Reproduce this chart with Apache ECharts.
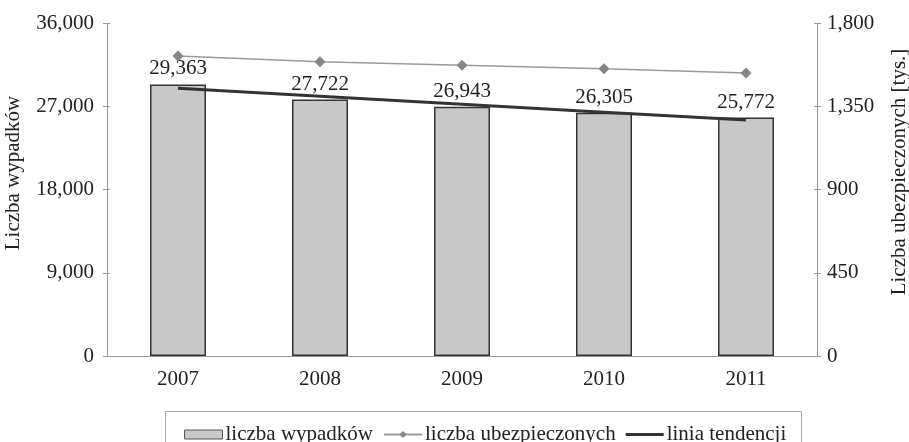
<!DOCTYPE html>
<html>
<head>
<meta charset="utf-8">
<script src="https://cdn.jsdelivr.net/npm/echarts@6/dist/echarts.min.js"></script>
<style>html,body{margin:0;padding:0;background:#fff}#c{width:909px;height:442px}</style>
</head>
<body>
<div id="c"></div>
<script>
var years = ['2007', '2008', '2009', '2010', '2011'];
var accidents = [29363, 27722, 26943, 26305, 25772];
var insured = [1621, 1590, 1571, 1553, 1530];
var trend = [28941, 28081, 27221, 26361, 25501];
var leftTicks = [0, 9000, 18000, 27000, 36000];
var rightTicks = [0, 450, 900, 1350, 1800];

var FONT = 'Liberation Serif';
var FS = 21;
var TXT = '#222';
function fmt(v){ return v.toLocaleString('en-US'); }

function yAx(ticks, pos, main) {
  return {
    type: 'value', position: pos,
    min: ticks[0], max: ticks[ticks.length - 1], interval: ticks[1] - ticks[0],
    axisLine: {show: main, lineStyle: {color: '#999'}},
    axisTick: {show: true, inside: !main, length: main ? 4 : 3, lineStyle: {color: '#999'}},
    splitLine: {show: false},
    axisLabel: main ? {fontFamily: FONT, fontSize: FS, color: TXT, margin: pos === 'left' ? 13 : 10, formatter: fmt} : {show: false}
  };
}

var chart = echarts.init(document.getElementById('c'), null, {renderer: 'canvas'});
chart.setOption({
  animation: false,
  textStyle: {fontFamily: FONT, color: TXT},
  grid: {left: 107, right: 92, top: 23, bottom: 86, containLabel: false},
  xAxis: {
    type: 'category', data: years,
    axisLine: {lineStyle: {color: '#999', width: 1}},
    axisTick: {show: false},
    axisLabel: {fontFamily: FONT, fontSize: FS, color: TXT, margin: 13}
  },
  yAxis: [yAx(leftTicks, 'left', true), yAx(rightTicks, 'right', true), yAx(leftTicks, 'left', false), yAx(rightTicks, 'right', false)],
  legend: {
    left: 179, top: 419, itemGap: 10, itemWidth: 38, itemHeight: 9,
    textStyle: {fontFamily: FONT, fontSize: FS, color: TXT, padding: [0, 0, 0, -2]},
    data: [
      {name: 'liczba wypadków', icon: 'rect', itemStyle: {color: '#c8c8c8', borderColor: '#555', borderWidth: 1}},
      {name: 'liczba ubezpieczonych'},
      {name: 'linia tendencji', icon: 'path://M0,0L0,0M0,3H38V6H0ZM0,9L0,9', itemStyle: {color: '#333', borderWidth: 0}}
    ]
  },
  graphic: [
    {type: 'rect', shape: {x: 165.5, y: 411.5, width: 636, height: 60}, style: {fill: 'none', stroke: '#aaa', lineWidth: 1}, silent: true},
    {type: 'text', x: 13, y: 173, rotation: Math.PI / 2, style: {text: 'Liczba wypadków', font: FS + 'px "Liberation Serif"', fill: TXT, align: 'center', verticalAlign: 'middle'}},
    {type: 'text', x: 899, y: 172, rotation: Math.PI / 2, style: {text: 'Liczba ubezpieczonych [tys.]', font: FS + 'px "Liberation Serif"', fill: TXT, align: 'center', verticalAlign: 'middle'}}
  ],
  series: [{
    name: 'liczba wypadków', type: 'bar', data: accidents, barWidth: 56,
    itemStyle: {color: '#c8c8c8', borderColor: '#333', borderWidth: 1.5},
    label: {show: true, position: 'top', distance: 5, fontFamily: FONT, fontSize: FS, color: TXT, formatter: function(p){ return fmt(p.value); }},
    z: 2
  }, {
    name: 'liczba ubezpieczonych', type: 'line', yAxisIndex: 1, data: insured,
    symbol: 'diamond', symbolSize: 11,
    lineStyle: {color: '#9a9a9a', width: 1.5},
    itemStyle: {color: '#858585'},
    z: 3
  }, {
    name: 'linia tendencji', type: 'line', data: trend,
    symbol: 'none', lineStyle: {color: '#333', width: 3},
    itemStyle: {color: '#333'},
    z: 4
  }]
});
</script>
</body>
</html>
